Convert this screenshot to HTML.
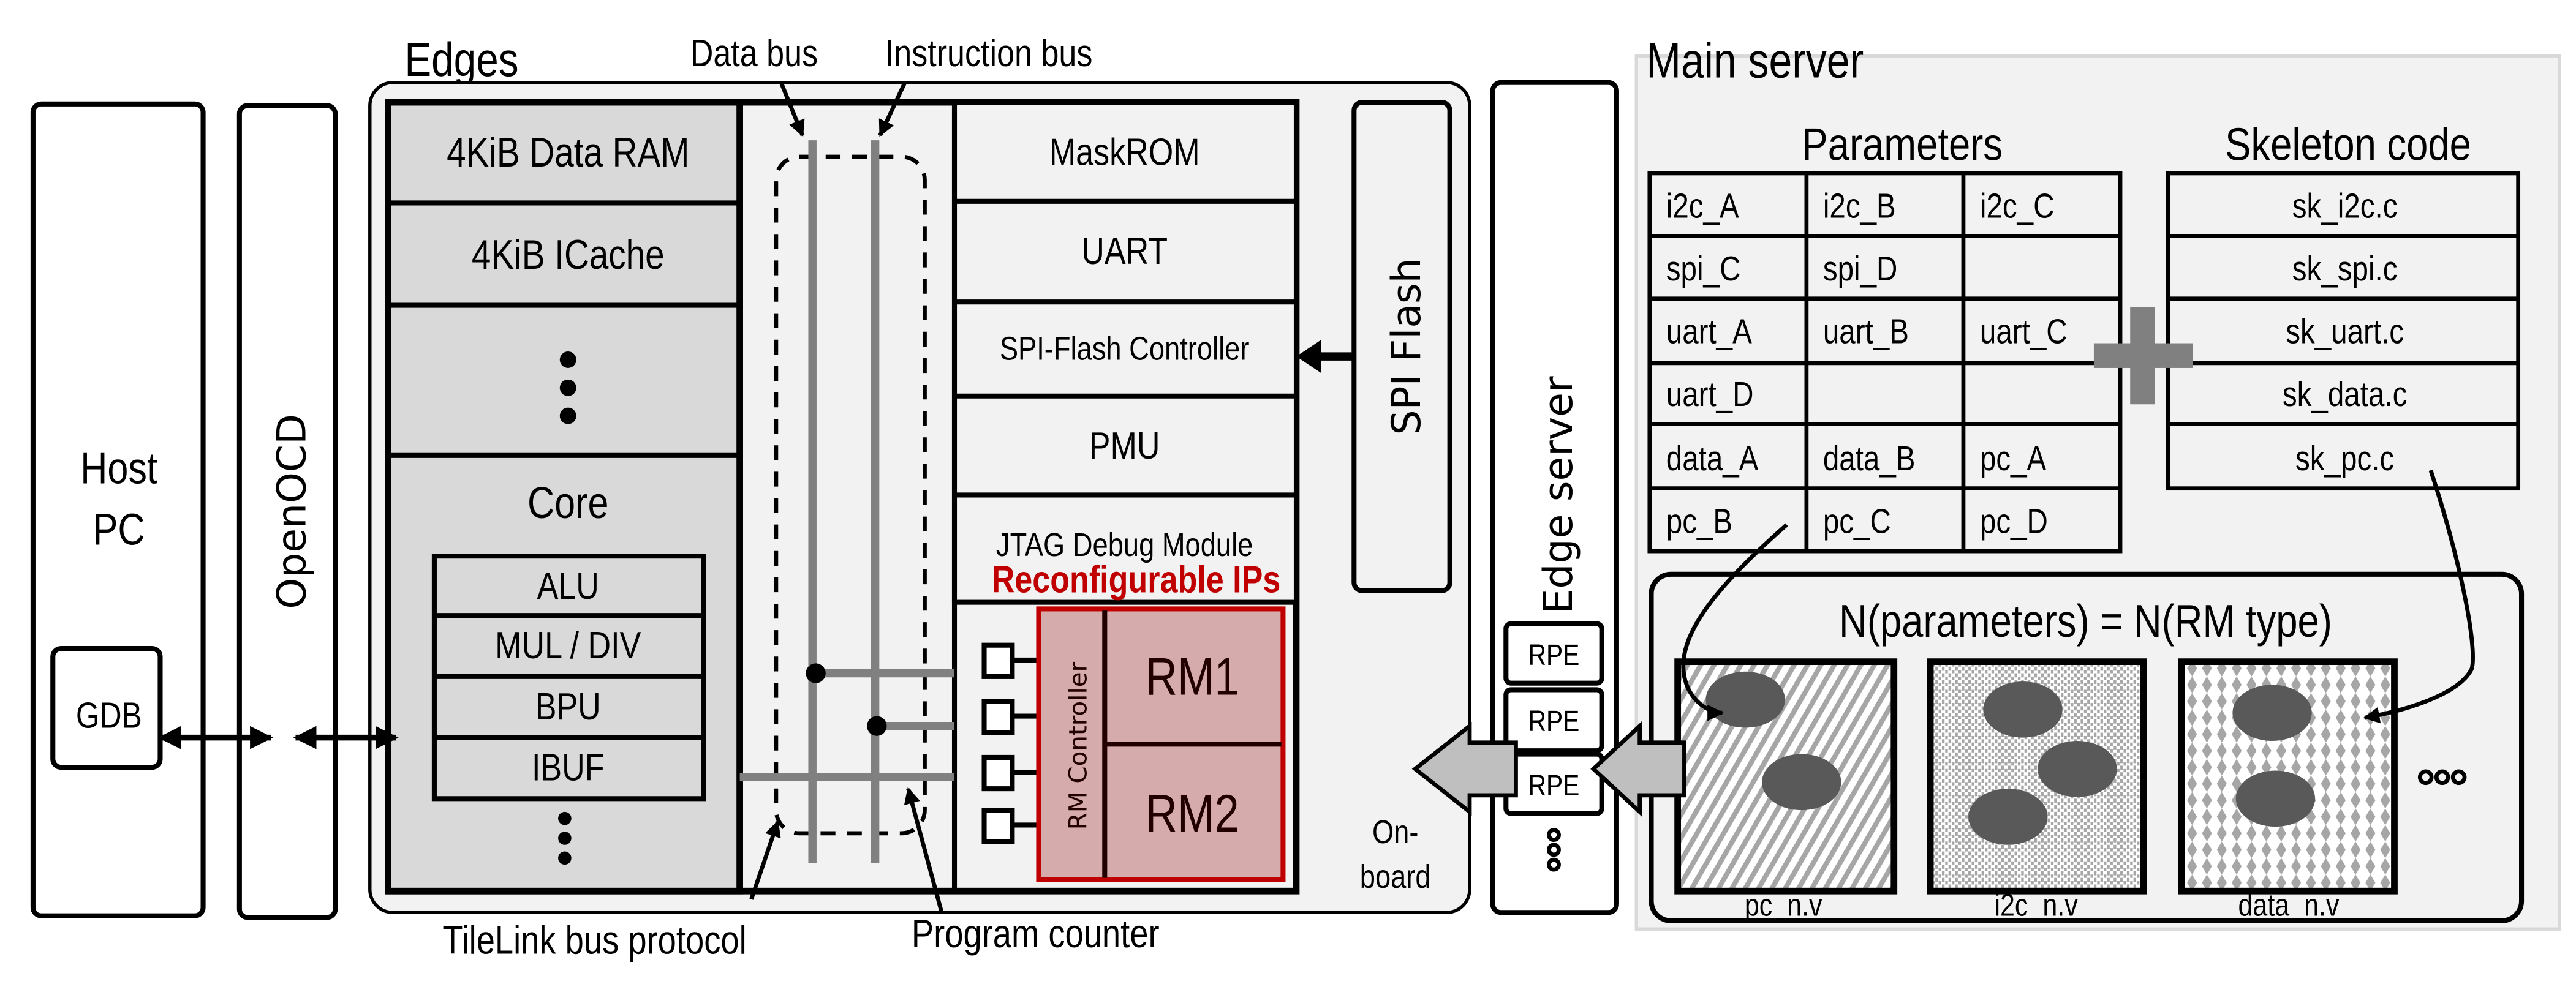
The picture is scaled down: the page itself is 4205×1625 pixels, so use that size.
<!DOCTYPE html>
<html><head><meta charset="utf-8"><style>
html,body{margin:0;padding:0;background:#fff;}
svg{display:block;}
text{font-family:"Liberation Sans",sans-serif;fill:#000;}
text:not(.v){transform-box:fill-box;transform-origin:left center;transform:scaleX(0.84);}
text.c:not(.v){transform-origin:center;}
.v{font-family:"DejaVu Sans","Liberation Sans",sans-serif;}
</style></head><body>
<svg width="4205" height="1625" viewBox="0 0 1560 603" preserveAspectRatio="none" xmlns="http://www.w3.org/2000/svg">
<defs>
<pattern id="hatch" width="7" height="7" patternUnits="userSpaceOnUse" patternTransform="rotate(30)">
<rect width="7" height="7" fill="#fff"/><rect width="3" height="7" fill="#a6a6a6"/></pattern>
<pattern id="dots" width="4" height="4" patternUnits="userSpaceOnUse">
<rect width="4" height="4" fill="#fff"/><rect width="1.6" height="2.5" fill="#a6a6a6"/><rect x="2" y="2" width="1.6" height="2.5" fill="#a6a6a6"/></pattern>
<pattern id="diam" width="9" height="10" patternUnits="userSpaceOnUse">
<rect width="9" height="10" fill="#fff"/><polygon points="4.5,0 7.5,5 4.5,10 1.5,5" fill="#a6a6a6"/></pattern>
<marker id="ah" viewBox="0 0 10 10" refX="9" refY="5" markerWidth="4" markerHeight="4" orient="auto-start-reverse"><path d="M0,0 L10,5 L0,10 z" fill="#000"/></marker>
</defs>

<!-- Host PC -->
<rect x="20" y="63" width="103" height="492" rx="5" fill="#fff" stroke="#000" stroke-width="3"/>
<text class="c" x="72" y="293" font-size="27" text-anchor="middle">Host</text>
<text class="c" x="72" y="330" font-size="27" text-anchor="middle">PC</text>
<rect x="32" y="393" width="65" height="72" rx="5" fill="#fff" stroke="#000" stroke-width="3"/>
<text class="c" x="66" y="441" font-size="22" text-anchor="middle">GDB</text>
<!-- OpenOCD -->
<rect x="145" y="64" width="58" height="492" rx="5" fill="#fff" stroke="#000" stroke-width="3"/>
<text class="v" x="185" y="310" font-size="24" text-anchor="middle" transform="rotate(-90 185 310)">OpenOCD</text>

<!-- Edges -->
<text x="245" y="46" font-size="29">Edges</text>
<rect x="224" y="50" width="666" height="503" rx="14" fill="#f2f2f2" stroke="#000" stroke-width="2"/>
<rect x="235" y="62" width="550" height="478" fill="#f2f2f2" stroke="#000" stroke-width="4"/>
<rect x="235" y="62" width="213" height="478" fill="#d9d9d9" stroke="#000" stroke-width="4"/>
<line x1="235" y1="123" x2="448" y2="123" stroke="#000" stroke-width="3"/>
<line x1="235" y1="185" x2="448" y2="185" stroke="#000" stroke-width="3"/>
<line x1="235" y1="276" x2="448" y2="276" stroke="#000" stroke-width="3"/>
<text class="c" x="344" y="101" font-size="25" text-anchor="middle">4KiB Data RAM</text>
<text class="c" x="344" y="163" font-size="25" text-anchor="middle">4KiB ICache</text>
<circle cx="344" cy="218" r="5"/><circle cx="344" cy="235" r="5"/><circle cx="344" cy="252" r="5"/>
<text class="c" x="344" y="314" font-size="27" text-anchor="middle">Core</text>
<rect x="263" y="337" width="163" height="147" fill="#d9d9d9" stroke="#000" stroke-width="3"/>
<line x1="263" y1="373" x2="426" y2="373" stroke="#000" stroke-width="3"/>
<line x1="263" y1="410" x2="426" y2="410" stroke="#000" stroke-width="3"/>
<line x1="263" y1="447" x2="426" y2="447" stroke="#000" stroke-width="3"/>
<text class="c" x="344" y="363" font-size="23" text-anchor="middle">ALU</text>
<text class="c" x="344" y="399" font-size="23" text-anchor="middle">MUL / DIV</text>
<text class="c" x="344" y="436" font-size="23" text-anchor="middle">BPU</text>
<text class="c" x="344" y="473" font-size="23" text-anchor="middle">IBUF</text>
<circle cx="342" cy="496" r="4"/><circle cx="342" cy="508" r="4"/><circle cx="342" cy="520" r="4"/>

<!-- right column -->
<line x1="578" y1="62" x2="578" y2="540" stroke="#000" stroke-width="3"/>
<rect x="578" y="62" width="207" height="303" fill="#f2f2f2" stroke="#000" stroke-width="3"/>
<line x1="578" y1="122" x2="785" y2="122" stroke="#000" stroke-width="3"/>
<line x1="578" y1="183" x2="785" y2="183" stroke="#000" stroke-width="3"/>
<line x1="578" y1="240" x2="785" y2="240" stroke="#000" stroke-width="3"/>
<line x1="578" y1="300" x2="785" y2="300" stroke="#000" stroke-width="3"/>
<text class="c" x="681" y="100" font-size="23" text-anchor="middle">MaskROM</text>
<text class="c" x="681" y="160" font-size="23" text-anchor="middle">UART</text>
<text class="c" x="681" y="218" font-size="20" text-anchor="middle">SPI-Flash Controller</text>
<text class="c" x="681" y="278" font-size="23" text-anchor="middle">PMU</text>
<text class="c" x="681" y="337" font-size="20" text-anchor="middle">JTAG Debug Module</text>
<text class="c" x="688" y="359" font-size="23" font-weight="bold" text-anchor="middle" style="fill:#c00000">Reconfigurable IPs</text>

<!-- bus -->
<rect x="470" y="95" width="90" height="410" rx="14" fill="none" stroke="#000" stroke-width="2.5" stroke-dasharray="9,7"/>
<line x1="492" y1="85" x2="492" y2="523" stroke="#808080" stroke-width="5"/>
<line x1="530" y1="85" x2="530" y2="523" stroke="#808080" stroke-width="5"/>
<line x1="492" y1="408" x2="578" y2="408" stroke="#808080" stroke-width="5"/>
<line x1="530" y1="440" x2="578" y2="440" stroke="#808080" stroke-width="5"/>
<line x1="448" y1="471" x2="578" y2="471" stroke="#808080" stroke-width="5"/>
<circle cx="494" cy="408" r="6"/><circle cx="531" cy="440" r="6"/>
<text x="418" y="40" font-size="23">Data bus</text>
<text x="536" y="40" font-size="23">Instruction bus</text>
<line x1="473" y1="50" x2="486" y2="82" stroke="#000" stroke-width="2.5" marker-end="url(#ah)"/>
<line x1="548" y1="50" x2="533" y2="82" stroke="#000" stroke-width="2.5" marker-end="url(#ah)"/>
<line x1="455" y1="545" x2="471" y2="498" stroke="#000" stroke-width="2.5" marker-end="url(#ah)"/>
<line x1="570" y1="552" x2="550" y2="478" stroke="#000" stroke-width="2.5" marker-end="url(#ah)"/>
<text x="268" y="578" font-size="24">TileLink bus protocol</text>
<text x="552" y="574" font-size="24">Program counter</text>

<!-- RM -->
<g stroke="#000" stroke-width="3">
<line x1="613" y1="400" x2="630" y2="400"/><line x1="613" y1="434" x2="630" y2="434"/>
<line x1="613" y1="468" x2="630" y2="468"/><line x1="613" y1="500" x2="630" y2="500"/>
<rect x="596" y="391" width="17" height="19" fill="#fff"/><rect x="596" y="425" width="17" height="19" fill="#fff"/>
<rect x="596" y="459" width="17" height="19" fill="#fff"/><rect x="596" y="491" width="17" height="19" fill="#fff"/>
</g>
<rect x="629" y="369" width="148" height="164" fill="#d5abab" stroke="#c00000" stroke-width="3"/>
<line x1="669" y1="370" x2="669" y2="532" stroke="#200" stroke-width="3"/>
<line x1="669" y1="451" x2="776" y2="451" stroke="#200" stroke-width="3"/>
<text class="v" x="658" y="452" font-size="15" text-anchor="middle" transform="rotate(-90 658 452)" style="fill:#200">RM Controller</text>
<text class="c" x="722" y="421" font-size="32" text-anchor="middle" style="fill:#200">RM1</text>
<text class="c" x="722" y="504" font-size="32" text-anchor="middle" style="fill:#200">RM2</text>

<!-- SPI Flash -->
<rect x="820" y="62" width="58" height="296" rx="5" fill="#f2f2f2" stroke="#000" stroke-width="3"/>
<text class="v" x="860" y="210" font-size="24" text-anchor="middle" transform="rotate(-90 860 210)">SPI Flash</text>
<line x1="820" y1="216" x2="789" y2="216" stroke="#000" stroke-width="5"/>
<polygon points="785,216 800,206 800,226" fill="#000"/>
<text class="c" x="845" y="511" font-size="20" text-anchor="middle">On-</text>
<text class="c" x="845" y="538" font-size="20" text-anchor="middle">board</text>

<!-- Edge server -->
<rect x="904" y="50" width="75" height="503" rx="5" fill="#fff" stroke="#000" stroke-width="3"/>
<text class="v" x="952" y="300" font-size="24" text-anchor="middle" transform="rotate(-90 952 300)">Edge server</text>
<rect x="912" y="378" width="58" height="36" rx="3" fill="#fff" stroke="#000" stroke-width="3"/>
<rect x="912" y="418" width="58" height="37" rx="3" fill="#fff" stroke="#000" stroke-width="3"/>
<rect x="912" y="457" width="58" height="36" rx="3" fill="#fff" stroke="#000" stroke-width="3"/>
<text class="c" x="941" y="403" font-size="18" text-anchor="middle">RPE</text>
<text class="c" x="941" y="443" font-size="18" text-anchor="middle">RPE</text>
<text class="c" x="941" y="482" font-size="18" text-anchor="middle">RPE</text>
<g fill="none" stroke="#000" stroke-width="2.5"><circle cx="941" cy="506" r="3"/><circle cx="941" cy="515" r="3"/><circle cx="941" cy="524" r="3"/></g>

<!-- Main server -->
<rect x="991" y="34" width="559" height="529" fill="#f2f2f2" stroke="#d9d9d9" stroke-width="2"/>
<text x="997" y="47" font-size="30">Main server</text>
<text class="c" x="1152" y="97" font-size="28" text-anchor="middle">Parameters</text>
<text class="c" x="1422" y="97" font-size="28" text-anchor="middle">Skeleton code</text>
<g stroke="#000" stroke-width="2.5" fill="none">
<rect x="999" y="105" width="285" height="229"/>
<line x1="1094" y1="105" x2="1094" y2="334"/><line x1="1189" y1="105" x2="1189" y2="334"/>
<line x1="999" y1="143" x2="1284" y2="143"/><line x1="999" y1="181" x2="1284" y2="181"/>
<line x1="999" y1="220" x2="1284" y2="220"/><line x1="999" y1="257" x2="1284" y2="257"/>
<line x1="999" y1="296" x2="1284" y2="296"/>
<rect x="1313" y="105" width="212" height="191"/>
<line x1="1313" y1="143" x2="1525" y2="143"/><line x1="1313" y1="181" x2="1525" y2="181"/>
<line x1="1313" y1="220" x2="1525" y2="220"/><line x1="1313" y1="257" x2="1525" y2="257"/>
</g>
<g font-size="21">
<text x="1009" y="132">i2c_A</text><text x="1104" y="132">i2c_B</text><text x="1199" y="132">i2c_C</text>
<text x="1009" y="170">spi_C</text><text x="1104" y="170">spi_D</text>
<text x="1009" y="208">uart_A</text><text x="1104" y="208">uart_B</text><text x="1199" y="208">uart_C</text>
<text x="1009" y="246">uart_D</text>
<text x="1009" y="285">data_A</text><text x="1104" y="285">data_B</text><text x="1199" y="285">pc_A</text>
<text x="1009" y="323">pc_B</text><text x="1104" y="323">pc_C</text><text x="1199" y="323">pc_D</text>
</g>
<g font-size="21">
<text class="c" x="1420" y="132" text-anchor="middle">sk_i2c.c</text><text class="c" x="1420" y="170" text-anchor="middle">sk_spi.c</text><text class="c" x="1420" y="208" text-anchor="middle">sk_uart.c</text>
<text class="c" x="1420" y="246" text-anchor="middle">sk_data.c</text><text class="c" x="1420" y="285" text-anchor="middle">sk_pc.c</text>
</g>
<rect x="1268" y="208" width="60" height="15" fill="#808080"/>
<rect x="1290" y="186" width="15" height="59" fill="#808080"/>

<rect x="1000" y="348" width="527" height="210" rx="12" fill="#f2f2f2" stroke="#000" stroke-width="3"/>
<text class="c" x="1263" y="386" font-size="28" text-anchor="middle">N(parameters) = N(RM type)</text>
<rect x="1016" y="401" width="131" height="139" fill="url(#hatch)" stroke="#000" stroke-width="4"/>
<rect x="1169" y="401" width="129" height="139" fill="url(#dots)" stroke="#000" stroke-width="4"/>
<rect x="1321" y="401" width="129" height="139" fill="url(#diam)" stroke="#000" stroke-width="4"/>
<g fill="#595959">
<ellipse cx="1057" cy="424" rx="24" ry="17"/><ellipse cx="1091" cy="474" rx="24" ry="17"/>
<ellipse cx="1225" cy="430" rx="24" ry="17"/><ellipse cx="1258" cy="466" rx="24" ry="17"/><ellipse cx="1216" cy="495" rx="24" ry="17"/>
<ellipse cx="1376" cy="432" rx="24" ry="17"/><ellipse cx="1378" cy="484" rx="24" ry="17"/>
</g>
<text class="c" x="1080" y="555" font-size="19" text-anchor="middle">pc_n.v</text>
<text class="c" x="1233" y="555" font-size="19" text-anchor="middle">i2c_n.v</text>
<text class="c" x="1386" y="555" font-size="19" text-anchor="middle">data_n.v</text>
<g fill="none" stroke="#000" stroke-width="2.5"><circle cx="1469" cy="471" r="3.5"/><circle cx="1479" cy="471" r="3.5"/><circle cx="1489" cy="471" r="3.5"/></g>

<path d="M1082,318 C1040,355 1015,385 1020,410 C1023,425 1035,432 1043,432" fill="none" stroke="#000" stroke-width="2.5" marker-end="url(#ah)"/>
<path d="M1472,285 C1490,340 1500,390 1497,405 C1490,420 1460,430 1432,435" fill="none" stroke="#000" stroke-width="2.5" marker-end="url(#ah)"/>

<!-- hollow arrows -->
<polygon points="1020,450 993,450 993,440 965,466 993,492 993,482 1020,482" fill="#bfbfbf" stroke="#000" stroke-width="2.5"/>
<polygon points="918,450 890,450 890,440 857,466 890,492 890,482 918,482" fill="#bfbfbf" stroke="#000" stroke-width="2.5"/>

<!-- double arrows -->
<line x1="97" y1="447" x2="164" y2="447" stroke="#000" stroke-width="3.5" marker-start="url(#ah)" marker-end="url(#ah)"/>
<line x1="179" y1="447" x2="240" y2="447" stroke="#000" stroke-width="3.5" marker-start="url(#ah)" marker-end="url(#ah)"/>
</svg>
</body></html>
